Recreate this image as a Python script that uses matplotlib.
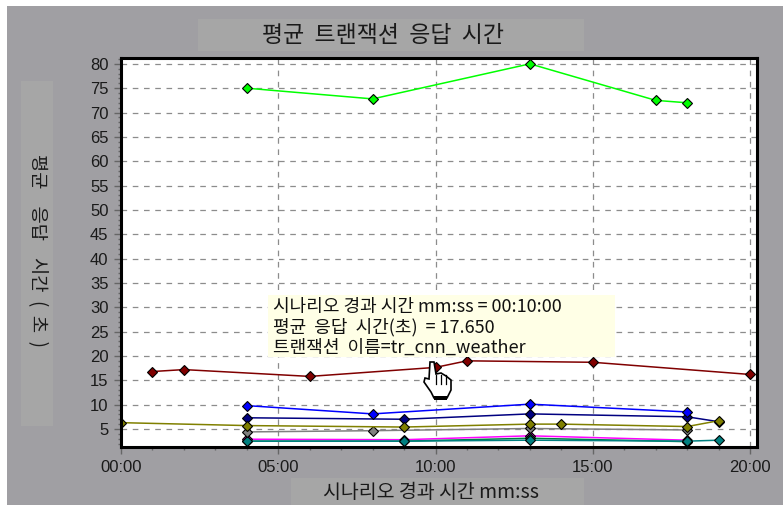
import matplotlib
matplotlib.use('Agg')
from matplotlib import pyplot as plt
from matplotlib.patches import Polygon, Rectangle
from matplotlib.lines import Line2D
from matplotlib.ticker import FixedLocator, FuncFormatter, MultipleLocator

plt.rcParams['font.family'] = ['Noto Sans CJK KR', 'DejaVu Sans']

title = '평균  트랜잭션  응답  시간'
x_label = '시나리오 경과 시간 mm:ss'
y_label = '평균    응답    시간  (  초  )'
tip_lines = ['시나리오 경과 시간 mm:ss = 00:10:00',
             '평균  응답  시간(초)  = 17.650',
             '트랜잭션  이름=tr_cnn_weather']

# Times are minutes into the scenario
green_t = [4, 8, 13, 17, 18]
green_v = [75, 72.8, 80, 72.5, 72]
red_t = [1, 2, 6, 10, 11, 15, 20]
red_v = [16.8, 17.2, 15.8, 17.65, 19, 18.7, 16.2]
blue_t = [4, 8, 13, 18]
blue_v = [9.8, 8.1, 10.1, 8.5]
navy_t = [4, 9, 13, 18, 19]
navy_v = [7.3, 7.0, 8.1, 7.5, 6.5]
olive_t = [0, 4, 9, 13, 14, 18, 19]
olive_v = [6.3, 5.7, 5.4, 6.0, 6.0, 5.5, 6.7]
gray_t = [4, 8, 13, 18]
gray_v = [4.4, 4.65, 5.1, 4.8]
magenta_t = [4, 9, 13, 18]
magenta_v = [2.9, 2.8, 3.6, 2.7]
dkgreen_t = [4, 9, 13, 18]
dkgreen_v = [2.5, 2.5, 3.1, 2.4]
teal_t = [4, 9, 13, 18, 19]
teal_v = [2.5, 2.5, 2.7, 2.5, 2.7]

series = [(green_t, green_v, '#00ff00'),
          (red_t, red_v, '#800000'),
          (magenta_t, magenta_v, '#ff00ff'),
          (dkgreen_t, dkgreen_v, '#008040'),
          (teal_t, teal_v, '#008080'),
          (gray_t, gray_v, '#808080'),
          (navy_t, navy_v, '#000080'),
          (blue_t, blue_v, '#0000ff'),
          (olive_t, olive_v, '#808000')]

W, H = 783, 514
BG = '#a09fa3'
BAND = '#a6a6a6'

fig = plt.figure(figsize=(W / 100, H / 100), dpi=100, facecolor='white')


def px_rect(x0, y0, x1, y1, color, z):
    fig.add_artist(Rectangle((x0 / W, 1 - y1 / H), (x1 - x0) / W, (y1 - y0) / H,
                             transform=fig.transFigure, fc=color, ec='none', zorder=z))


px_rect(7, 6, 783, 505, BG, -3)
px_rect(198, 19, 584, 51, BAND, -2)
px_rect(291, 478, 584, 505, BAND, -2)
px_rect(21, 81, 53, 426, BAND, -2)

ax = fig.add_axes([121 / W, 1 - 447 / H, (757 - 121) / W, (447 - 58) / H])
ax.set_xlim(0, 20.22)
ax.set_ylim(1.3, 81.2)
ax.set_facecolor('white')

ax.xaxis.set_major_locator(MultipleLocator(5))
ax.xaxis.set_minor_locator(MultipleLocator(1))
ax.xaxis.set_major_formatter(FuncFormatter(lambda v, p: '%02d:00' % v))
ax.yaxis.set_major_locator(FixedLocator(list(range(5, 85, 5))))
ax.yaxis.set_minor_locator(MultipleLocator(1))
ax.tick_params(which='major', length=5, width=1, color='#666666',
               labelsize=12, labelcolor='#1a1a1a', pad=4,
               labelfontfamily='Liberation Sans')
ax.tick_params(which='minor', length=2, width=1, color='#666666')
ax.grid(True, which='major', color='#8c8c8c', linestyle=(0, (4.5, 4.5)), linewidth=0.9)
ax.set_axisbelow(True)
for s in ax.spines.values():
    s.set_linewidth(2.2)
    s.set_color('black')

for t, v, c in series:
    ax.plot(t, v, color=c, linewidth=1.1, marker='D', markersize=5.5,
            markerfacecolor=c, markeredgecolor='black', markeredgewidth=0.8,
            clip_on=True, zorder=2)

fig.text(383 / W, 1 - 35 / H, title, ha='center', va='center', fontsize=16.5, color='#1a1a1a')
fig.text(431 / W, 1 - 493 / H, x_label, ha='center', va='center', fontsize=14, color='#1a1a1a')
fig.text(37 / W, 1 - 250 / H, y_label, ha='center', va='center', rotation=270,
         fontsize=13.5, color='#1a1a1a')

# Tooltip box
px_rect(268, 295, 615, 357, '#ffffe6', 5)
for i, line in enumerate(tip_lines):
    fig.text(273 / W, 1 - (307 + i * 20.5) / H, line, ha='left', va='center',
             fontsize=13, color='#111111', zorder=6)

# Hand cursor, in pixels
hand = [(430, 362), (434, 362), (436, 374), (441, 373), (446, 376), (451, 380),
        (451, 390), (447, 398), (434, 398), (431, 392), (424, 382),
        (425, 378), (429, 379)]
fig.add_artist(Polygon([(x / W, 1 - y / H) for x, y in hand], closed=True,
                       transform=fig.transFigure, fc='white', ec='black', lw=1.2, zorder=7))
for x in [436, 441, 446]:
    fig.add_artist(Line2D([x / W, x / W], [1 - 375 / H, 1 - 384 / H],
                          transform=fig.transFigure, color='black', lw=0.9, zorder=8))
px_rect(434, 396, 447, 400, 'black', 8)

fig.savefig('out.png', dpi=100, facecolor='white')
